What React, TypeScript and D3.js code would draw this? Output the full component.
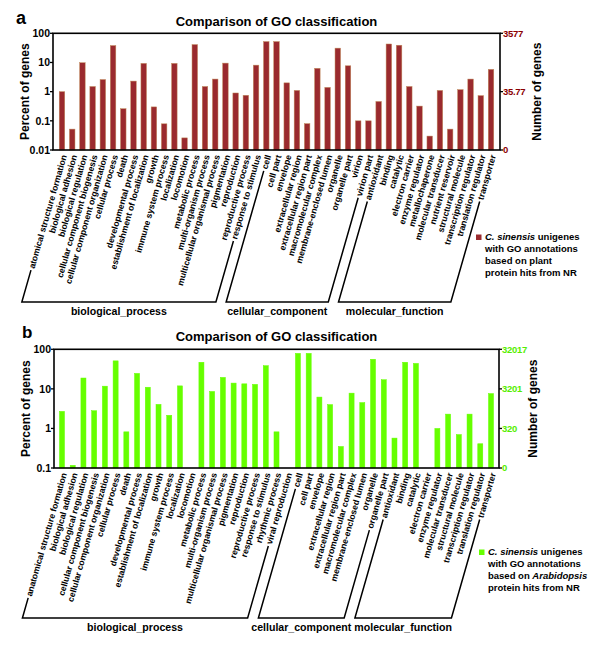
import React, { useEffect, useRef } from 'react';
import * as d3 from 'd3';

// ---------- Panel a data ----------
const categoriesA = [
  'atomical structure formation', 'biological adhesion', 'biological regulation',
  'cellular component biogenesis', 'cellular component organization', 'cellular process',
  'death', 'developmental process', 'establishment of localization', 'growth',
  'immune system process', 'localization', 'locomotion', 'metabolic process',
  'multi-organism process', 'multicellular organismal process', 'pigmentation',
  'reproduction', 'reproductive process', 'response to stimulus',
  'cell', 'cell part', 'envelope', 'extracellular region', 'extracellular region part',
  'macromolecular complex', 'membrane-enclosed lumen', 'organelle', 'organelle part',
  'virion', 'virion part',
  'antioxidant', 'binding', 'catalytic', 'electron carrier', 'enzyme regulator',
  'metallochaperone', 'molecular transducer', 'nutrient reservoir', 'structural molecule',
  'transcription regulator', 'translation regulator', 'transporter',
];
const valuesA = [
  1.0, 0.052, 9.8, 1.5, 2.6, 38, 0.26, 2.3, 9.3, 0.3, 0.079, 9.3, 0.026, 41, 1.5, 2.7, 9.5, 0.9, 0.75, 8.1,
  52, 52, 2.0, 1.1, 0.08, 6.3, 1.4, 31, 7.7, 0.1, 0.1,
  0.46, 43, 39, 1.5, 0.32, 0.03, 1.1, 0.052, 1.17, 2.7, 0.73, 5.8,
];
const groupNamesA = ['biological_process', 'cellular_component', 'molecular_function'];
const groupSizesA = [20, 11, 12];
const leftTicksA = [100, 10, 1, 0.1, 0.01];
const leftTickLabelsA = ['100', '10', '1', '0.1', '0.01'];
const rightTicksA = [100, 1, 0.01];
const rightTickLabelsA = ['3577', '35.77', '0'];
const legendLinesA = [
  [['C. sinensis', true], [' unigenes', false]],
  [['with GO annotations', false]],
  [['based on plant', false]],
  [['protein hits from NR', false]],
];

// ---------- Panel b data ----------
const categoriesB = [
  'anatomical structure formation', 'biological adhesion', 'biological regulation',
  'cellular component biogenesis', 'cellular component organization', 'cellular process',
  'death', 'developmental process', 'establishment of localization', 'growth',
  'immune system process', 'localization', 'locomotion', 'metabolic process',
  'multi-organism process', 'multicellular organismal process', 'pigmentation',
  'reproduction', 'reproductive process', 'response to stimulus', 'rhythmic process',
  'viral reproduction',
  'cell', 'cell part', 'envelope', 'extracellular region', 'extracellular region part',
  'macromolecular complex', 'membrane-enclosed lumen', 'organelle', 'organelle part',
  'antioxidant', 'binding', 'catalytic', 'electron carrier', 'enzyme regulator',
  'molecular transducer', 'structural molecule', 'transcription regulator',
  'translation regulator', 'transporter',
];
const valuesB: (number | null)[] = [
  2.7, 0.117, 18.8, 2.8, 11.7, 51, 0.82, 24.6, 11, 4.06, 2.15, 11.9, null, 47, 8.6, 19.5, 14, 13.4, 13, 38.5, 0.82, null,
  79, 79, 6.2, 4.0, 0.35, 7.8, 4.5, 56, 17,
  0.57, 47, 44, null, 1.0, 2.3, 0.7, 2.3, 0.41, 7.6,
];
const groupNamesB = ['biological_process', 'cellular_component', 'molecular_function'];
const groupSizesB = [22, 9, 10];
const leftTicksB = [100, 10, 1, 0.1];
const leftTickLabelsB = ['100', '10', '1', '0.1'];
const rightTicksB = [100, 10, 1, 0.1];
const rightTickLabelsB = ['32017', '3201', '320', '0'];
const legendLinesB = [
  [['C. sinensis', true], [' unigenes', false]],
  [['with GO annotations', false]],
  [['based on ', false], ['Arabidopsis', true]],
  [['protein hits from NR', false]],
];

const FONT = 'Arial, "Liberation Sans", Helvetica, sans-serif';
const ANGLE = 74;

interface PanelCfg {
  letter: string; letterX: number; letterY: number; letterSize: number;
  titleY: number;
  left: number; right: number; top: number; bottom: number;
  domain: [number, number];
  categories: string[]; values: (number | null)[];
  groupNames: string[]; groupSizes: number[];
  leftTicks: number[]; leftTickLabels: string[];
  rightTicks: number[]; rightTickLabels: string[];
  paddingInner: number; paddingOuter: number;
  barColor: string; barStroke: string; rightColor: string;
  bracketY: number; groupLabelY: number;
  yLabelX: number; rLabelX: number;
  legend: (string | boolean)[][][]; legendX: number; legendY: number;
}

function drawPanel(root: d3.Selection<SVGGElement, unknown, null, undefined>, c: PanelCfg) {
  const g = root.append('g');
  const x = d3.scaleBand<string>().domain(c.categories).range([c.left, c.right])
    .paddingInner(c.paddingInner).paddingOuter(c.paddingOuter);
  const y = d3.scaleLog().domain(c.domain).range([c.bottom, c.top]).clamp(true);

  // letter & title
  g.append('text').attr('x', c.letterX).attr('y', c.letterY).attr('font-size', c.letterSize)
    .attr('font-weight', 'bold').attr('font-family', FONT).text(c.letter);
  g.append('text').attr('x', (c.left + c.right) / 2).attr('y', c.titleY).attr('text-anchor', 'middle')
    .attr('font-size', 13).attr('font-weight', 'bold').attr('font-family', FONT)
    .text('Comparison of GO classification');

  // bars
  c.categories.forEach((cat, i) => {
    const v = c.values[i];
    if (v == null || v <= 0) return;
    const yt = y(v);
    g.append('rect').attr('x', x(cat)!).attr('y', yt).attr('width', x.bandwidth())
      .attr('height', c.bottom - yt).attr('fill', c.barColor)
      .attr('stroke', c.barStroke).attr('stroke-width', 0.5);
  });

  // frame
  g.append('rect').attr('x', c.left).attr('y', c.top).attr('width', c.right - c.left)
    .attr('height', c.bottom - c.top).attr('fill', 'none').attr('stroke', '#000').attr('stroke-width', 1.6);

  // left ticks
  c.leftTicks.forEach((t, i) => {
    const yy = y(t);
    g.append('line').attr('x1', c.left - 3).attr('x2', c.left).attr('y1', yy).attr('y2', yy)
      .attr('stroke', '#000').attr('stroke-width', 1.3);
    g.append('text').attr('x', c.left - 3).attr('y', yy).attr('dy', '0.35em').attr('text-anchor', 'end')
      .attr('font-size', 10.5).attr('font-weight', 'bold').attr('font-family', FONT)
      .text(c.leftTickLabels[i]);
  });
  // right ticks
  c.rightTicks.forEach((t, i) => {
    const yy = y(t);
    g.append('line').attr('x1', c.right).attr('x2', c.right + 3).attr('y1', yy).attr('y2', yy)
      .attr('stroke', '#000').attr('stroke-width', 1.3);
    g.append('text').attr('x', c.right + 3).attr('y', yy).attr('dy', '0.35em')
      .attr('font-size', 9.5).attr('font-weight', 'bold').attr('font-family', FONT)
      .attr('fill', c.rightColor).attr('letter-spacing', -0.3)
      .text(c.rightTickLabels[i]);
  });

  // axis titles
  const midY = (c.top + c.bottom) / 2;
  g.append('text').attr('transform', `translate(${c.yLabelX},${midY}) rotate(-90)`)
    .attr('text-anchor', 'middle').attr('font-size', 12).attr('font-weight', 'bold')
    .attr('font-family', FONT).text('Percent of genes');
  g.append('text').attr('transform', `translate(${c.rLabelX},${midY}) rotate(-90)`)
    .attr('text-anchor', 'middle').attr('font-size', 12).attr('font-weight', 'bold')
    .attr('font-family', FONT).text('Number of genes');

  // category labels
  const rad = (ANGLE * Math.PI) / 180;
  const dx = -Math.cos(rad), dy = Math.sin(rad);
  const anchorY = c.bottom + 5;
  const lens: number[] = [];
  c.categories.forEach((cat) => {
    const ax = x(cat)! + x.bandwidth() / 2 + 2;
    const t = g.append('text').attr('transform', `translate(${ax},${anchorY}) rotate(${-ANGLE})`)
      .attr('text-anchor', 'end').attr('dy', '0.35em').attr('font-size', 8.7)
      .attr('font-weight', 'bold').attr('font-family', FONT).text(cat);
    lens.push((t.node() as SVGTextElement).getComputedTextLength());
  });

  // brackets
  let idx = 0;
  c.groupNames.forEach((name, gi) => {
    const first = idx, last = idx + c.groupSizes[gi] - 1;
    idx += c.groupSizes[gi];
    const ends = [first, last].map((k) => {
      const ax = x(c.categories[k])! + x.bandwidth() / 2 + 2;
      const L = lens[k] + 2;
      const sx = ax + dx * L, sy = anchorY + dy * L;
      const tt = (c.bracketY - anchorY) / dy;
      const bx = ax + dx * tt;
      return { sx, sy, bx };
    });
    const path = d3.path();
    path.moveTo(ends[0].sx, ends[0].sy);
    path.lineTo(ends[0].bx, c.bracketY);
    path.lineTo(ends[1].bx, c.bracketY);
    path.lineTo(ends[1].sx, ends[1].sy);
    g.append('path').attr('d', path.toString()).attr('fill', 'none').attr('stroke', '#000')
      .attr('stroke-width', 1.5);
    g.append('text').attr('x', (ends[0].bx + ends[1].bx) / 2).attr('y', c.groupLabelY)
      .attr('text-anchor', 'middle').attr('font-size', 10.6).attr('font-weight', 'bold')
      .attr('font-family', FONT).text(name);
  });

  // legend
  g.append('rect').attr('x', c.legendX - 9).attr('y', c.legendY - 5.5).attr('width', 5.5)
    .attr('height', 5.5).attr('fill', c.barColor);
  c.legend.forEach((line, li) => {
    const t = g.append('text').attr('x', c.legendX).attr('y', c.legendY + li * 12)
      .attr('font-size', 9.5).attr('font-weight', 'bold').attr('font-family', FONT);
    line.forEach(([s, it]) => {
      t.append('tspan').attr('font-style', it ? 'italic' : 'normal').text(s as string);
    });
  });
}

export default function App() {
  const ref = useRef<SVGSVGElement>(null);
  useEffect(() => {
    const svg = d3.select(ref.current!);
    svg.selectAll('*').remove();
    const root = svg.append('g');
    drawPanel(root, {
      letter: 'a', letterX: 16, letterY: 24, letterSize: 18, titleY: 26,
      left: 53, right: 500, top: 33.3, bottom: 150, domain: [0.01, 100],
      categories: categoriesA, values: valuesA, groupNames: groupNamesA, groupSizes: groupSizesA,
      leftTicks: leftTicksA, leftTickLabels: leftTickLabelsA,
      rightTicks: rightTicksA, rightTickLabels: rightTickLabelsA,
      paddingInner: 0.46, paddingOuter: 0.61,
      barColor: '#9A2A2E', barStroke: '#C08A5A', rightColor: '#8B0000',
      bracketY: 302, groupLabelY: 315, yLabelX: 29, rLabelX: 541,
      legend: legendLinesA as any, legendX: 485, legendY: 240,
    });
    drawPanel(root, {
      letter: 'b', letterX: 22, letterY: 338, letterSize: 17, titleY: 341,
      left: 54, right: 499, top: 349.3, bottom: 468, domain: [0.1, 100],
      categories: categoriesB, values: valuesB, groupNames: groupNamesB, groupSizes: groupSizesB,
      leftTicks: leftTicksB, leftTickLabels: leftTickLabelsB,
      rightTicks: rightTicksB, rightTickLabels: rightTickLabelsB,
      paddingInner: 0.53, paddingOuter: 0.51,
      barColor: '#66FF00', barStroke: '#66FF00', rightColor: '#55EE00',
      bracketY: 618, groupLabelY: 631, yLabelX: 30, rLabelX: 537,
      legend: legendLinesB as any, legendX: 488, legendY: 555,
    });
  }, []);
  return (
    <svg ref={ref} width={600} height={654}
      style={{ position: 'absolute', left: 0, top: 0, background: '#fff' }} />
  );
}
